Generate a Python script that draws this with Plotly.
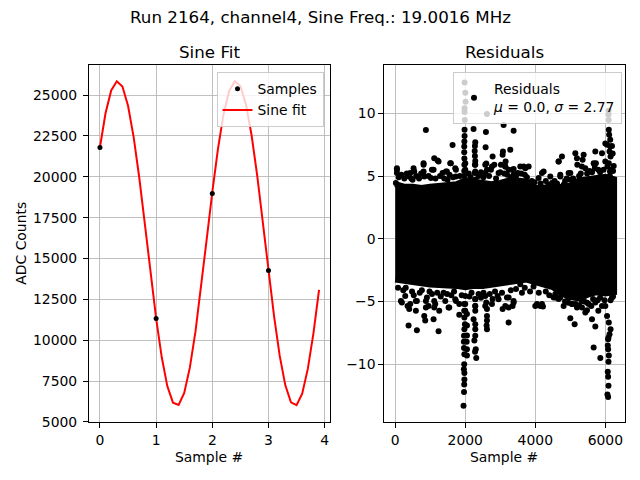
import plotly.graph_objects as go

# ---------------- data ----------------
sample_x = [0, 1, 2, 3]
sample_y = [21800, 11326, 18980, 14265]

fit_x = [round(0.1 * i, 1) for i in range(40)]
fit_y = [21808, 23900, 25286, 25842, 25520, 24349, 22432, 19941, 17089, 14137,
         11341, 8956, 7181, 6180, 6043, 6778, 8322, 10524, 13204, 16168,
         19060, 21697, 23830, 25257, 25840, 25551, 24415, 22525, 20054, 17213,
         14260, 11454, 9043, 7240, 6204, 6030, 6733, 8245, 10423, 13085]

# dense core of the residual cloud (edges, dot centres)
res_band_x = [0, 250, 500, 750, 1000, 1250, 1500, 1750, 2000, 2250, 2500, 2750, 3000,
              3250, 3500, 3750, 4000, 4250, 4500, 4750, 5000, 5250, 5500, 5750, 6000, 6250]
res_band_hi = [4.35, 4.15, 4.15, 4.05, 4.15, 4.25, 4.35, 4.35, 4.65, 4.55, 4.45, 4.35, 4.45,
               4.65, 4.65, 4.55, 4.05, 4.05, 4.15, 4.15, 4.25, 4.65, 4.75, 4.85, 4.95, 4.75]
res_band_lo = [-3.25, -3.35, -3.45, -3.55, -3.65, -3.65, -3.75, -3.75, -3.85, -3.75, -3.75,
               -3.75, -3.65, -3.45, -3.35, -3.25, -3.45, -3.65, -3.85, -4.35, -4.65, -4.75,
               -4.45, -4.25, -4.35, -4.25]

# individual points outside the dense core (upper side)
res_up_x = [48, 48, 19, 400, 543, 495, 810, 810, 830, 876, 1114, 1210, 1095, 1019, 1352,
            1448, 1495, 1590, 1638, 1733, 1733,
            1971, 1971, 1975, 1975, 1971, 1971, 1975, 1980, 1980, 1985, 1981, 1981, 2010, 2000, 1981,
            2238, 2286, 2276, 2270, 2276, 2286, 2276, 2270, 2290,
            2590, 2581, 2600, 2620, 2619, 2781, 2830, 2733, 3019, 3067, 3095, 3076, 3152, 3114,
            3286, 3381, 3381, 3143, 3333, 3667, 3810, 3500, 3700, 4238, 4095, 4429, 4667, 4762,
            4714, 5000, 5000, 5143, 5190, 5381, 5352, 5330, 5714, 5690, 5730, 5905,
            6000, 6050, 6140, 6120, 6150, 6100, 6160, 6130, 6095, 6090, 6095, 6100, 6110, 6140,
            6190, 6210,
            48, 429, 524, 810, 1048, 1238, 1571, 1476, 1714, 2000, 2000, 2286, 2286, 2571, 2571,
            2762, 2952, 3143, 3238, 3381, 3571, 3714, 4190, 4667, 4714, 4952, 5200, 5429, 5667,
            5700, 6000, 6060, 6133, 4476, 4810,
            100, 180, 260, 330, 460, 600, 680, 740, 950, 1150, 1280, 1400, 1550, 1650, 1850,
            2100, 2150, 2380, 2450, 2520, 2680, 2880, 3000, 3200, 3300, 3450, 3600, 3760, 3900,
            3980, 4150, 4300, 4380, 4550, 4620, 4850, 4900, 5080, 5250, 5300, 5480, 5550, 5620,
            5800, 5850, 5950, 6220, 6240]
res_up_y = [5.63, 5.24, 4.45, 4.97, 5.37, 4.7, 5.9, 5.37, 4.97, 8.68, 6.42, 6.24, 5.5, 4.84, 5.24,
            5.37, 4.7, 6.03, 7.48, 5.5, 4.97,
            5.0, 5.4, 5.9, 6.4, 6.9, 7.35, 7.75, 8.2, 8.7, 9.47, 10.1, 10.4, 10.93, 11.64, 12.46,
            8.76, 7.7, 7.4, 7.0, 6.6, 6.2, 5.9, 5.24, 4.7,
            8.52, 7.3, 6.0, 5.5, 9.95, 6.56, 5.9, 5.5, 5.9, 6.7, 9.07, 6.96, 6.16, 5.2,
            7.09, 8.62, 5.56, 5.77, 5.5, 5.77, 5.77, 5.24, 5.1, 5.37, 4.84, 4.97, 6.16, 6.56,
            5.1, 5.24, 4.7, 6.82, 6.42, 6.7, 6.3, 5.77, 6.95, 5.9, 6.03, 6.82,
            7.6, 7.5, 7.35, 6.95, 6.56, 6.03, 5.5, 5.0, 10.2, 9.9, 9.47, 8.7, 8.3, 7.9,
            7.4, 6.8,
            5.5, 5.24, 5.63, 6.03, 5.5, 6.16, 6.03, 5.37, 5.63, 6.03, 5.5, 5.9, 5.37, 5.9, 5.24,
            5.77, 5.24, 5.77, 5.5, 5.1, 5.77, 5.63, 5.24, 6.16, 4.97, 5.24, 5.9, 5.63, 6.03,
            5.63, 6.16, 5.77, 5.37, 4.44, 4.3,
            4.9, 5.1, 4.8, 5.2, 4.8, 5.0, 4.8, 5.2, 5.0, 4.8, 5.0, 4.8, 5.1, 4.9, 5.0,
            5.2, 4.9, 5.0, 5.3, 4.9, 5.0, 4.8, 5.3, 5.1, 4.9, 5.0, 5.2, 4.9, 4.6,
            4.5, 4.4, 4.6, 4.3, 4.6, 4.4, 4.6, 4.8, 4.8, 5.0, 5.2, 5.2, 5.4, 5.3,
            5.5, 5.3, 5.5, 5.4, 5.8]

# individual points outside the dense core (lower side)
res_lo_x = [162, 352, 400, 590, 590, 381, 619, 876, 876, 829, 857, 1114, 1114, 1095, 1238, 1257,
            1543, 1733, 1829, 1829,
            1971, 1971, 1975, 1990, 1975, 1965, 1960, 1965, 1975, 1970, 1960, 1975, 1975, 1970,
            1965, 1950,
            2048, 2048, 2048, 2040, 2048, 2048,
            2286, 2286, 2286, 2238, 2286, 2286, 2286, 2260, 2300, 2280, 2314,
            2600, 2620, 2620, 2620, 2620, 2610,
            2781, 2924, 3067, 3238, 3238, 3381, 3238, 3352, 3619, 4000, 4143, 4219, 4524, 4667,
            4810, 5000, 5124, 5048, 5333, 5429, 5619, 5714, 5476, 5667, 5857, 5600, 5800,
            6000, 6050, 6100, 6150, 6120, 6090, 6080, 6070, 6080, 6100, 6090, 6070, 6080, 6090,
            6060, 6080, 6238,
            190, 286, 429, 619, 905, 952, 1143, 1381, 1429, 1524, 1714, 2000, 2000, 2000, 2286,
            2286, 2571, 2571, 2762, 2952, 3143, 3190, 3381, 3571, 4048, 4190, 4571, 4714, 4905,
            5048, 5190, 5333, 5524, 5714, 5905, 6190,
            80, 230, 300, 480, 530, 700, 760, 980, 1050, 1200, 1300, 1480, 1600, 1680, 1900,
            2120, 2180, 2380, 2450, 2520, 2700, 2850, 3050, 3300, 3450, 3700, 3850, 3950, 4100,
            4300, 4400, 4600, 4850, 4950, 5150, 5250, 5400, 5480, 5650, 5780, 5850, 5980, 6150,
            6220]
res_lo_y = [-4.95, -5.35, -5.6, -4.95, -5.74, -6.91, -7.28, -4.95, -5.48, -6.14, -6.5, -4.95,
            -5.48, -6.4, -7.36, -5.74, -5.48, -4.95, -5.2, -6.06,
            -5.2, -5.74, -6.27, -6.8, -7.2, -7.73, -8.2, -8.7, -9.2, -10.0, -10.4, -10.7, -11.2,
            -11.6, -12.2, -13.3,
            -6.0, -6.9, -7.7, -8.2, -8.8, -9.3,
            -4.8, -5.35, -5.74, -6.4, -6.8, -7.2, -7.73, -8.1, -8.8, -9.0, -9.5,
            -5.08, -5.6, -6.14, -6.5, -7.2, -6.9,
            -4.8, -4.55, -5.6, -6.67, -4.68, -4.95, -5.48, -5.35, -4.29, -5.35, -5.35, -5.4, -4.68,
            -4.8, -5.35, -6.33, -6.8, -5.2, -5.48, -5.87, -6.4, -6.99, -5.7, -8.65, -9.5, -5.35,
            -5.74,
            -5.35, -6.14, -6.67, -7.2, -7.6, -7.86, -8.0, -8.5, -8.8, -9.3, -9.8, -10.6, -11.0,
            -11.7, -12.4, -12.6, -4.29,
            -5.08, -4.55, -5.2, -4.95, -4.68, -5.35, -5.2, -4.3, -4.95, -5.48, -4.82, -4.55, -5.2,
            -5.74, -4.82, -5.35, -4.55, -5.35, -5.2, -4.82, -5.35, -4.68, -5.08, -3.63, -5.2, -5.2,
            -4.42, -4.68, -4.95, -5.2, -5.48, -4.95, -5.2, -5.08, -5.35, -4.68,
            -3.9, -4.1, -3.9, -4.2, -4.5, -4.3, -4.1, -4.2, -4.4, -4.3, -4.6, -4.4, -4.5, -4.2,
            -4.5, -4.6, -4.3, -4.4, -4.7, -4.3, -4.4, -4.2, -4.3, -4.1, -4.0, -3.9, -4.2, -3.8,
            -4.3, -4.2, -4.5, -4.7, -5.0, -5.1, -5.2, -5.3, -5.0, -5.1, -4.8, -4.9, -4.7, -4.9,
            -4.9, -4.6]

suptitle = "Run 2164, channel4, Sine Freq.: 19.0016 MHz"
res_label = "Residuals<br><i>μ</i> = 0.0, <i>σ</i> = 2.77"

# ---------------- figure ----------------
W, H = 640, 480
FONT = "DejaVu Sans"


def px(x):
    return x / W


def py(y):
    return 1 - y / H


fig = go.Figure()

fig.add_trace(go.Scatter(x=fit_x, y=fit_y, mode="lines", name="Sine fit",
                         line=dict(color="red", width=2), xaxis="x", yaxis="y",
                         legend="legend", legendrank=2))
fig.add_trace(go.Scatter(x=sample_x, y=sample_y, mode="markers", name="Samples",
                         marker=dict(color="black", size=5), xaxis="x", yaxis="y",
                         legend="legend", legendrank=1))

poly_x = res_band_x + res_band_x[::-1]
poly_y = res_band_hi + res_band_lo[::-1]
fig.add_trace(go.Scatter(x=poly_x, y=poly_y, mode="lines", fill="toself",
                         fillcolor="black", line=dict(color="black", width=6),
                         showlegend=False, hoverinfo="skip", xaxis="x2", yaxis="y2"))
fig.add_trace(go.Scatter(x=res_up_x + res_lo_x, y=res_up_y + res_lo_y, mode="markers",
                         name=res_label, marker=dict(color="black", size=6),
                         xaxis="x2", yaxis="y2", legend="legend2"))

axis_common = dict(showline=True, mirror=True, linecolor="black", linewidth=1,
                   ticks="outside", ticklen=5, tickwidth=1, tickcolor="black",
                   showgrid=True, gridcolor="#b0b0b0", gridwidth=0.8, zeroline=False,
                   automargin=False,
                   tickfont=dict(family=FONT, size=13.9, color="black"))

y_top, y_bot = 65, 422.3
fig.update_layout(
    width=W, height=H, autosize=False,
    margin=dict(l=0, r=0, t=0, b=0, pad=0, autoexpand=False),
    paper_bgcolor="white", plot_bgcolor="white",
    font=dict(family=FONT, size=13.9, color="black"),
    xaxis=dict(domain=[px(89), px(330)], range=[-0.195, 4.095], tickvals=[0, 1, 2, 3, 4],
               anchor="y", **axis_common),
    yaxis=dict(domain=[py(y_bot), py(y_top)], range=[4980, 26840],
               tickvals=[5000, 7500, 10000, 12500, 15000, 17500, 20000, 22500, 25000],
               tickformat="d", anchor="x", ticklabelstandoff=3, **axis_common),
    xaxis2=dict(domain=[px(384.3), px(625)], range=[-312, 6562],
                tickvals=[0, 2000, 4000, 6000], tickformat="d", anchor="y2", **axis_common),
    yaxis2=dict(domain=[py(y_bot), py(y_top)], range=[-14.62, 13.85],
                tickvals=[-10, -5, 0, 5, 10], anchor="x2", **axis_common),
    legend=dict(x=px(323.5), y=py(72.3), xanchor="right", yanchor="top",
                bgcolor="rgba(255,255,255,0.8)", bordercolor="#cccccc", borderwidth=1,
                font=dict(family=FONT, size=13.9, color="black"), traceorder="normal"),
    legend2=dict(x=px(622), y=py(72.3), xanchor="right", yanchor="top",
                 bgcolor="rgba(255,255,255,0.8)", bordercolor="#cccccc", borderwidth=1,
                 font=dict(family=FONT, size=13.9, color="black")),
    showlegend=True,
)

annots = [
    dict(text=suptitle, x=0.5, y=py(17), size=16.7),
    dict(text="Sine Fit", x=px(209.5), y=py(51.7), size=16.7),
    dict(text="Residuals", x=px(504.5), y=py(51.7), size=16.7),
    dict(text="Sample #", x=px(208.5), y=py(457.3), size=13.9),
    dict(text="Sample #", x=px(503.5), y=py(457.3), size=13.9),
]
for a in annots:
    fig.add_annotation(text=a["text"], x=a["x"], y=a["y"], xref="paper", yref="paper",
                       xanchor="center", yanchor="middle", showarrow=False,
                       font=dict(family=FONT, size=a["size"], color="black"))
fig.add_annotation(text="ADC Counts", x=px(21), y=py((y_top + y_bot) / 2), xref="paper",
                   yref="paper", xanchor="center", yanchor="middle", showarrow=False,
                   textangle=-90, font=dict(family=FONT, size=13.9, color="black"))

fig.write_html("out.html",
               config=dict(displayModeBar=False, responsive=False, staticPlot=True),
               post_script="document.body.style.margin='0';")
